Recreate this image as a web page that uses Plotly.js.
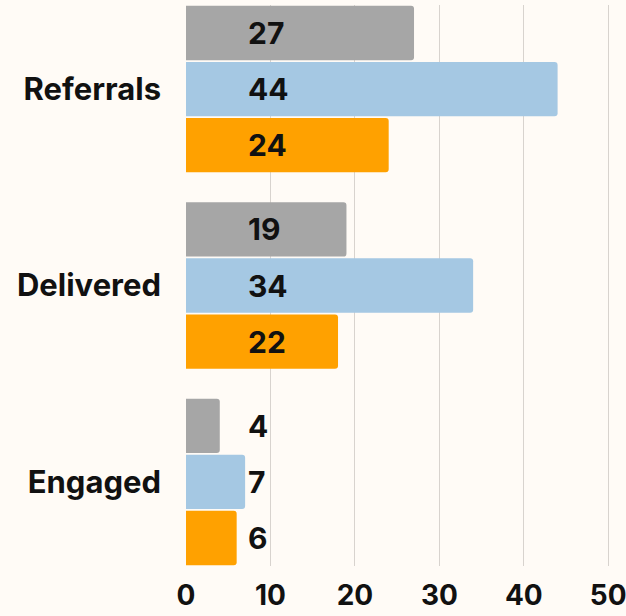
<!DOCTYPE html>
<html>
<head>
<meta charset="utf-8">
<script src="https://cdn.plot.ly/plotly-3.0.1.min.js"></script>
<style>html,body{margin:0;padding:0;background:#fffbf6;}#chart{width:626px;height:616px;}</style>
</head>
<body>
<div id="chart"></div>
<script>
const categories = ["Referrals", "Delivered", "Engaged"];
const seriesGray = [27, 19, 4];
const seriesBlue = [44, 34, 7];
const seriesOrange = [24, 18, 6];
const labelsGray = ["27", "19", "4"];
const labelsBlue = ["44", "34", "7"];
const labelsOrange = ["24", "22", "6"];
const colors = ["#a6a6a6", "#a5c8e3", "#ffa100"];
const seriesList = [seriesGray, seriesBlue, seriesOrange];
const labelList = [labelsGray, labelsBlue, labelsOrange];
const xTicks = [0, 10, 20, 30, 40, 50];

const FONT = "Inter, 'DejaVu Sans', sans-serif";
const traces = seriesList.map((vals, i) => ({
  type: "bar",
  orientation: "h",
  y: categories,
  x: vals,
  marker: {color: colors[i], line: {width: 0}},
  hoverinfo: "skip"
}));

const labelX = 7.15;
const slotPx = 56.1;
const annotations = [];
labelList.forEach((labs, i) => {
  labs.forEach((t, j) => {
    annotations.push({
      x: labelX, y: categories[j], xref: "x", yref: "y",
      xanchor: "left", yanchor: "middle",
      yshift: (1 - i) * slotPx,
      text: t, showarrow: false,
      font: {family: FONT, size: 30, color: "#111111", weight: 700}
    });
  });
});

const layout = {
  width: 626, height: 616,
  paper_bgcolor: "#fffbf6", plot_bgcolor: "#fffbf6",
  margin: {l: 186, r: 0, t: 5, b: 50, pad: 0},
  barmode: "group", bargap: 0.1435, bargroupgap: 0.03,
  barcornerradius: 3,
  showlegend: false,
  xaxis: {
    range: [0, 52.1], tickvals: xTicks, ticktext: xTicks.map(String),
    showgrid: true, gridcolor: "#d8d3ce", gridwidth: 1,
    zeroline: false, showline: false, ticks: "",
    ticklabelstandoff: 10, ticklabeloverflow: "allow",
    tickfont: {family: FONT, size: 28, color: "#111111", weight: 700}
  },
  yaxis: {
    type: "category", categoryorder: "array", categoryarray: categories,
    range: [2.4283, -0.4283],
    showgrid: false, zeroline: false, showline: false, ticks: "",
    ticklabelstandoff: 24,
    tickfont: {family: FONT, size: 31, color: "#111111", weight: 700}
  },
  annotations: annotations
};

Plotly.newPlot("chart", traces, layout, {displayModeBar: false, staticPlot: true});
</script>
</body>
</html>
